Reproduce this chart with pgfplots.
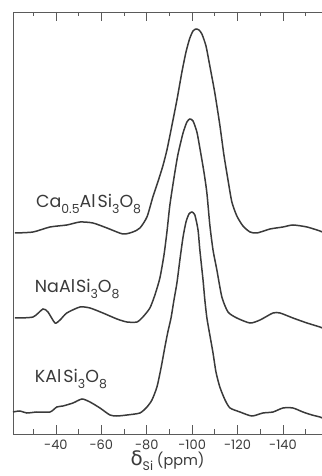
\documentclass[border=0pt]{standalone}
\usepackage{pgfplots}
\pgfplotsset{compat=1.18}
\usepackage{fontspec}
\setmainfont{Poppins}
\newfontfamily\greekfont{DejaVu Sans}

\definecolor{ink}{HTML}{3A3A3A}
\definecolor{frame}{HTML}{5A5A5A}

\newcommand{\sub}[1]{\raisebox{-0.34em}{\fontsize{12.5}{14}\selectfont #1}}

% 29Si MAS NMR spectra of feldspar-composition glasses (stacked, offset)
\pgfplotstableread{
ppm y
-21.9 201
-29.9 202
-37.4 207
-44.8 209
-50.6 212
-56.3 211
-62.5 206
-69.5 200
-73.9 202
-77.0 206
-80.1 217
-82.7 237
-84.9 252
-87.1 268
-88.9 284
-90.7 304
-93.3 334
-95.5 362
-97.3 382
-99.0 396
-100.4 403
-101.7 405
-103.0 404
-104.3 400
-106.1 388
-107.8 368
-110.0 341
-112.2 309
-114.0 279
-115.8 254
-117.5 232
-119.7 218
-122.4 208
-125.5 202
-128.6 201
-134.3 205
-140.0 207
-144.4 209
-150.6 207
-156.3 203
-157.2 202
}\caglass

\pgfplotstableread{
ppm y
-21.9 116
-29.9 117
-34.3 125
-36.5 122
-39.6 111
-41.8 114
-44.8 121
-50.6 127
-55.0 126
-60.7 121
-66.9 115
-71.3 112
-75.7 112
-78.3 117
-81.4 126
-83.6 139
-85.8 156
-87.6 179
-88.9 202
-90.2 229
-92.0 256
-93.7 279
-96.0 301
-97.7 312
-99.0 315
-100.4 313
-102.1 302
-103.4 286
-105.2 262
-106.5 241
-107.8 209
-109.2 184
-110.9 164
-113.1 137
-115.8 122
-119.7 116
-125.5 111
-129.9 114
-135.6 121
-138.7 121
-144.4 116
-150.6 111
-156.3 107
-157.2 106
}\naglass

\pgfplotstableread{
ppm y
-21.1 22
-24.1 23
-27.2 21
-31.6 22
-37.4 22
-40.4 27
-43.1 28
-47.5 31
-51.5 35
-55.0 32
-59.4 26
-63.8 19
-66.9 18
-71.3 19
-77.0 21
-80.1 27
-82.3 34
-84.5 47
-86.3 66
-88.0 87
-89.3 102
-90.7 116
-92.0 134
-93.3 151
-94.6 174
-96.0 197
-97.3 212
-98.6 220
-99.9 222
-101.2 219
-102.6 204
-103.4 184
-104.8 154
-105.6 134
-106.5 116
-107.8 99
-109.2 81
-110.5 62
-112.2 47
-114.5 34
-116.7 26
-121.1 22
-126.3 18
-131.2 21
-135.6 22
-140.0 26
-144.4 26
-148.8 22
-152.8 19
-156.3 17
-157.2 16
}\kglass

\begin{document}
\begin{tikzpicture}
\useasboundingbox (-13bp,-42bp) rectangle (309bp,434bp);
\begin{axis}[
  at={(0,0)}, anchor=south west,
  scale only axis,
  width=309bp, height=422bp,
  x dir=reverse,
  xmin=-157.2, xmax=-21.1,
  ymin=0, ymax=422,
  axis x line=box,
  axis y line*=left,
  axis line style={frame, line width=0.9bp, -},
  xtick={-40,-60,-80,-100,-120,-140},
  xticklabels={-40,-60,-80,-100,-120,-140},
  minor xtick={-30,-50,-70,-90,-110,-130,-150},
  ytick=\empty,
  tick align=inside,
  major tick length=9bp,
  minor tick length=4.5bp,
  every tick/.style={frame, line width=0.8bp},
  xticklabel style={font=\fontsize{13}{15}\selectfont, text=ink, yshift=-2bp},
  xlabel={{\greekfont\fontsize{20}{22}\selectfont δ}\sub{Si} (ppm)},
  xlabel style={font=\fontsize{14.5}{16}\selectfont, text=ink, yshift=5bp},
  clip=true,
]
\addplot[ink, line width=1.5bp, smooth, tension=0.4] table[x=ppm, y=y] {\caglass};
\addplot[ink, line width=1.5bp, smooth, tension=0.4] table[x=ppm, y=y] {\naglass};
\addplot[ink, line width=1.5bp, smooth, tension=0.4] table[x=ppm, y=y] {\kglass};

\node[anchor=base west, inner sep=0, text=ink, font=\fontsize{17.5}{20}\selectfont]
  at (axis cs:-31.2,226) {Ca\sub{0.5}Al\kern2bp Si\sub{3}O\sub{8}};
\node[anchor=base west, inner sep=0, text=ink, font=\fontsize{17.5}{20}\selectfont]
  at (axis cs:-30.7,141) {NaAl\kern1bp Si\sub{3}O\sub{8}};
\node[anchor=base west, inner sep=0, text=ink, font=\fontsize{17.5}{20}\selectfont]
  at (axis cs:-30.7,51) {KAl\kern2bp Si\sub{3}O\sub{8}};
\end{axis}
\end{tikzpicture}
\end{document}
